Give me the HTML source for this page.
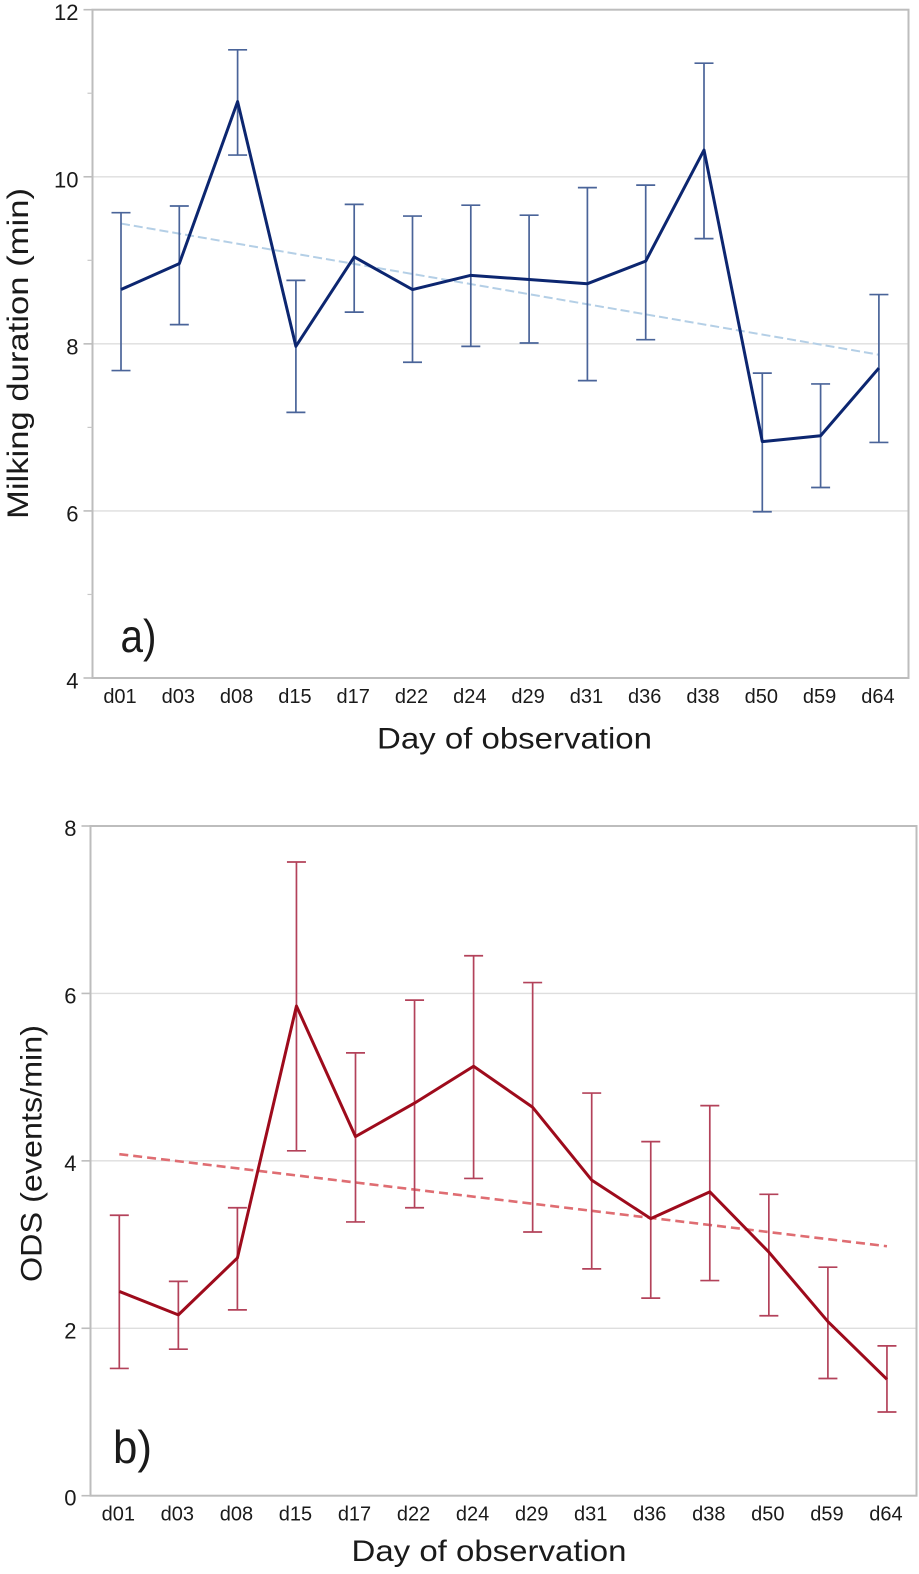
<!DOCTYPE html>
<html><head><meta charset="utf-8"><title>Milking duration and ODS by day</title>
<style>html,body{margin:0;padding:0;background:#fff}svg{display:block}text{font-family:"Liberation Sans",sans-serif;fill:#1a1a1a}</style></head>
<body>
<svg id="fig" xmlns="http://www.w3.org/2000/svg" width="919" height="1574" viewBox="0 0 919 1574">
<rect width="919" height="1574" fill="#fff"/>
</svg>
<script>
const days = ["d01","d03","d08","d15","d17","d22","d24","d29","d31","d36","d38","d50","d59","d64"];
const aMean = [8.65,8.96,10.90,7.97,9.04,8.65,8.82,8.77,8.72,8.99,10.32,6.83,6.90,7.71];
const aUpper = [9.57,9.65,11.52,8.76,9.67,9.53,9.66,9.54,9.87,9.90,11.36,7.65,7.52,8.59];
const aLower = [7.68,8.23,10.26,7.18,8.38,7.78,7.97,8.01,7.56,8.05,9.26,5.99,6.28,6.82];
const aTrend = [9.44,7.87];
const aTicks = [4,6,8,10,12];
const aMinorTicks = [5,7,9,11];
const aGrid = [6,8,10];
const bMean = [2.44,2.16,2.84,5.85,4.29,4.69,5.13,4.64,3.77,3.31,3.63,2.91,2.08,1.39];
const bUpper = [3.35,2.56,3.44,7.57,5.29,5.92,6.45,6.13,4.81,4.23,4.66,3.60,2.73,1.79];
const bLower = [1.52,1.75,2.22,4.12,3.27,3.44,3.79,3.15,2.71,2.36,2.57,2.15,1.40,1.00];
const bTrend = [4.08,2.98];
const bTicks = [0,2,4,6,8];
const bMinorTicks = [];
const bGrid = [2,4,6];

const svg = document.getElementById('fig');
function mk(tag, attrs, text, parent) {
  const e = document.createElementNS('http://www.w3.org/2000/svg', tag);
  for (const k in attrs) e.setAttribute(k, attrs[k]);
  if (text !== undefined) e.textContent = text;
  (parent || svg).appendChild(e);
  return e;
}
function drawPanel(o) {
  const g = mk('g', {});
  
  
  const y = v => o.bottom - (v - o.yMin) / (o.yMax - o.yMin) * (o.bottom - o.top);
  const x = i => o.x0 + i * o.step;

  o.grid.forEach(v => {
    const l = mk('line', {x1:o.left, x2:o.right, y1:y(v), y2:y(v), stroke:'#dedede', 'stroke-width':1.4}, undefined, g);
    
    
  });
  const frame = mk('rect', {x:o.left, y:o.top, width:o.right-o.left, height:o.bottom-o.top, fill:'none', stroke:'#bdbdbd', 'stroke-width':2}, undefined, g);
  
  

  o.ticks.forEach(v => {
    const t = mk('line', {x1:o.left-9, x2:o.left, y1:y(v), y2:y(v), stroke:'#bdbdbd', 'stroke-width':1.6}, undefined, g);
    
    
    const lb = mk('text', {x:o.left-14, y:y(v)+o.tickDy, 'text-anchor':'end', 'font-size':22}, String(v), g);
    
    
  });
  o.minor.forEach(v => {
    const t = mk('line', {x1:o.left-5, x2:o.left, y1:y(v), y2:y(v), stroke:'#c8c8c8', 'stroke-width':1.2}, undefined, g);
    
    
  });
  days.forEach((d, i) => {
    const t = mk('text', {x:x(i)-1, y:o.bottom+o.labelDy, 'text-anchor':'middle', 'font-size':20}, d, g);
    
    
  });

  const tr = mk('line', {x1:x(0), x2:x(days.length-1), y1:y(o.trend[0]), y2:y(o.trend[1]), stroke:o.trendColor, 'stroke-width':o.trendWidth, 'stroke-dasharray':o.dash}, undefined, g);
  
  

  days.forEach((d, i) => {
    const eg = mk('g', {stroke:o.errColor, 'stroke-width':1.7, fill:'none'}, undefined, g);
    
    
    mk('line', {x1:x(i), x2:x(i), y1:y(o.upper[i]), y2:y(o.lower[i])}, undefined, eg);
    mk('line', {x1:x(i)-9.5, x2:x(i)+9.5, y1:y(o.upper[i]), y2:y(o.upper[i])}, undefined, eg);
    mk('line', {x1:x(i)-9.5, x2:x(i)+9.5, y1:y(o.lower[i]), y2:y(o.lower[i])}, undefined, eg);
  });

  const pts = o.mean.map((v, i) => x(i) + ',' + y(v)).join(' ');
  const pl = mk('polyline', {points:pts, fill:'none', stroke:o.lineColor, 'stroke-width':3, 'stroke-linejoin':'round'}, undefined, g);
  
  

  const yt = mk('text', {transform:'translate(' + o.yTitleX + ',' + o.yTitleBottom + ') rotate(-90)', 'font-size':30, textLength:o.yTitleLen, lengthAdjust:'spacingAndGlyphs'}, o.yTitle, g);
  
  
  const xt = mk('text', {x:o.xTitleX, y:o.xTitleY, 'font-size':30, textLength:o.xTitleLen, lengthAdjust:'spacingAndGlyphs'}, 'Day of observation', g);
  
  
  const pn = mk('text', {x:o.tagX, y:o.tagY, 'font-size':46, textLength:o.tagLen, lengthAdjust:'spacingAndGlyphs'}, o.tag, g);
  
  
}

drawPanel({id:'panel-a', left:92.5, right:908.5, top:9.7, bottom:678, yMin:4, yMax:12,
  x0:121, step:58.3, mean:aMean, upper:aUpper, lower:aLower, trend:aTrend,
  ticks:aTicks, minor:aMinorTicks, grid:aGrid, tickDy:10.5, labelDy:25,
  lineColor:'#0c2670', errColor:'#4a6499', trendColor:'#b4cfe6', trendWidth:2, dash:'9 4',
  yTitle:'Milking duration (min)', yTitleX:28, yTitleBottom:519, yTitleLen:331,
  xTitleX:377, xTitleY:748.3, xTitleLen:275, tag:'a)', tagX:120.5, tagY:652, tagLen:36});

drawPanel({id:'panel-b', left:90.5, right:916.5, top:826, bottom:1495.7, yMin:0, yMax:8,
  x0:119.3, step:59.05, mean:bMean, upper:bUpper, lower:bLower, trend:bTrend,
  ticks:bTicks, minor:bMinorTicks, grid:bGrid, tickDy:10, labelDy:25,
  lineColor:'#9e0b1c', errColor:'#b3425a', trendColor:'#df6d72', trendWidth:2.6, dash:'9 5',
  yTitle:'ODS (events/min)', yTitleX:41.5, yTitleBottom:1282, yTitleLen:257,
  xTitleX:351.5, xTitleY:1561, xTitleLen:275, tag:'b)', tagX:113, tagY:1463, tagLen:39});
</script>
</body></html>
